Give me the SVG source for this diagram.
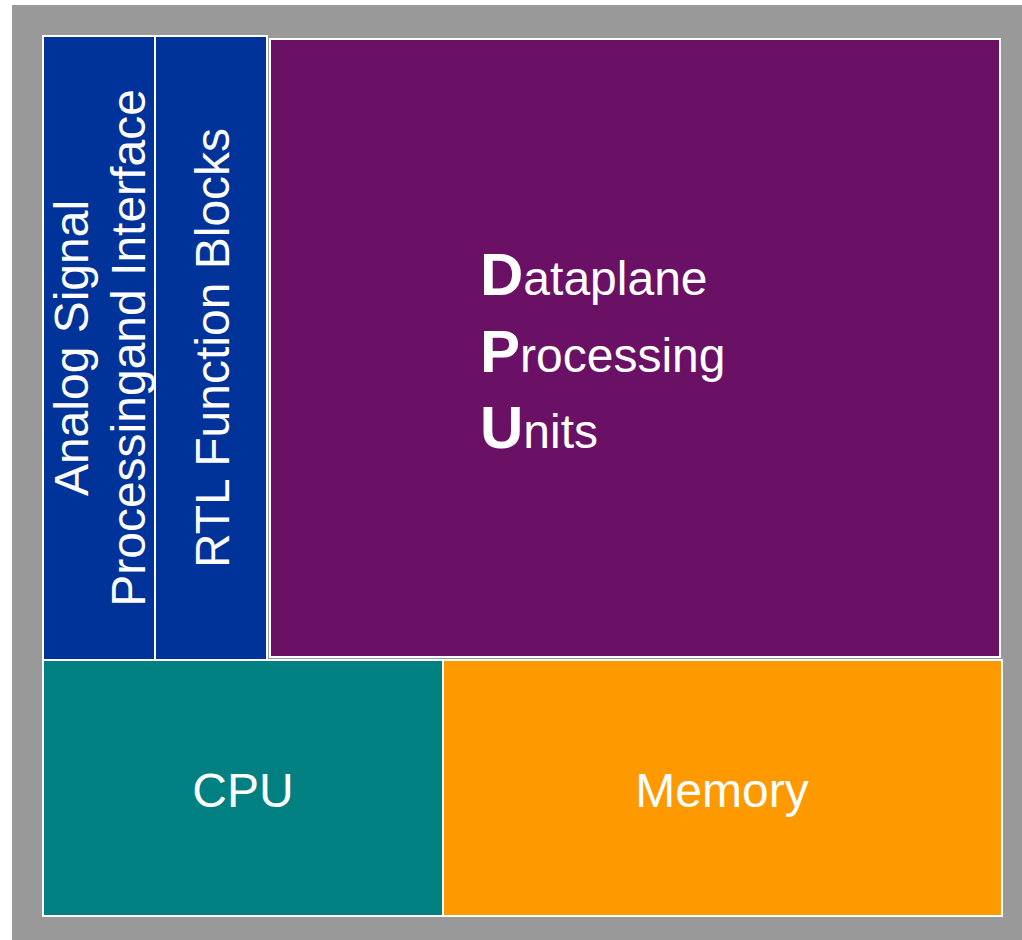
<svg xmlns="http://www.w3.org/2000/svg" width="1022" height="940" viewBox="0 0 1022 940">
<style>
.box{stroke:#ffffff;stroke-width:2}
.t{font-family:"Liberation Sans",Arial,sans-serif;fill:#ffffff}
.big{font-size:48px}
.b{font-weight:bold;font-size:60px}
</style>
<rect x="12" y="5" width="1010" height="935" fill="#999999"/>
<g id="asp">
<rect class="box" x="43" y="36" width="112" height="624" fill="#003399"/>
<text class="t big" transform="translate(88,348) rotate(-90)" text-anchor="middle">Analog Signal</text>
<text class="t big" transform="translate(145,348) rotate(-90)" text-anchor="middle">Processingand Interface</text>
</g>
<g id="rtl">
<rect class="box" x="155" y="36" width="112" height="624" fill="#003399"/>
<text class="t big" transform="translate(229,348) rotate(-90)" text-anchor="middle">RTL Function Blocks</text>
</g>
<g id="dpu">
<rect class="box" x="270" y="39" width="730" height="618" fill="#6a1166"/>
<text class="t big" x="480" y="295"><tspan class="b">D</tspan>ataplane</text>
<text class="t big" x="480" y="372"><tspan class="b">P</tspan>rocessing</text>
<text class="t big" x="480" y="448"><tspan class="b">U</tspan>nits</text>
</g>
<g id="cpu">
<rect class="box" x="43" y="660" width="400" height="256" fill="#008080"/>
<text class="t big" x="243" y="807" text-anchor="middle">CPU</text>
</g>
<g id="memory">
<rect class="box" x="443" y="660" width="559" height="256" fill="#ff9900"/>
<text class="t big" x="722" y="807" text-anchor="middle">Memory</text>
</g>
<g id="connectors"/>
</svg>
